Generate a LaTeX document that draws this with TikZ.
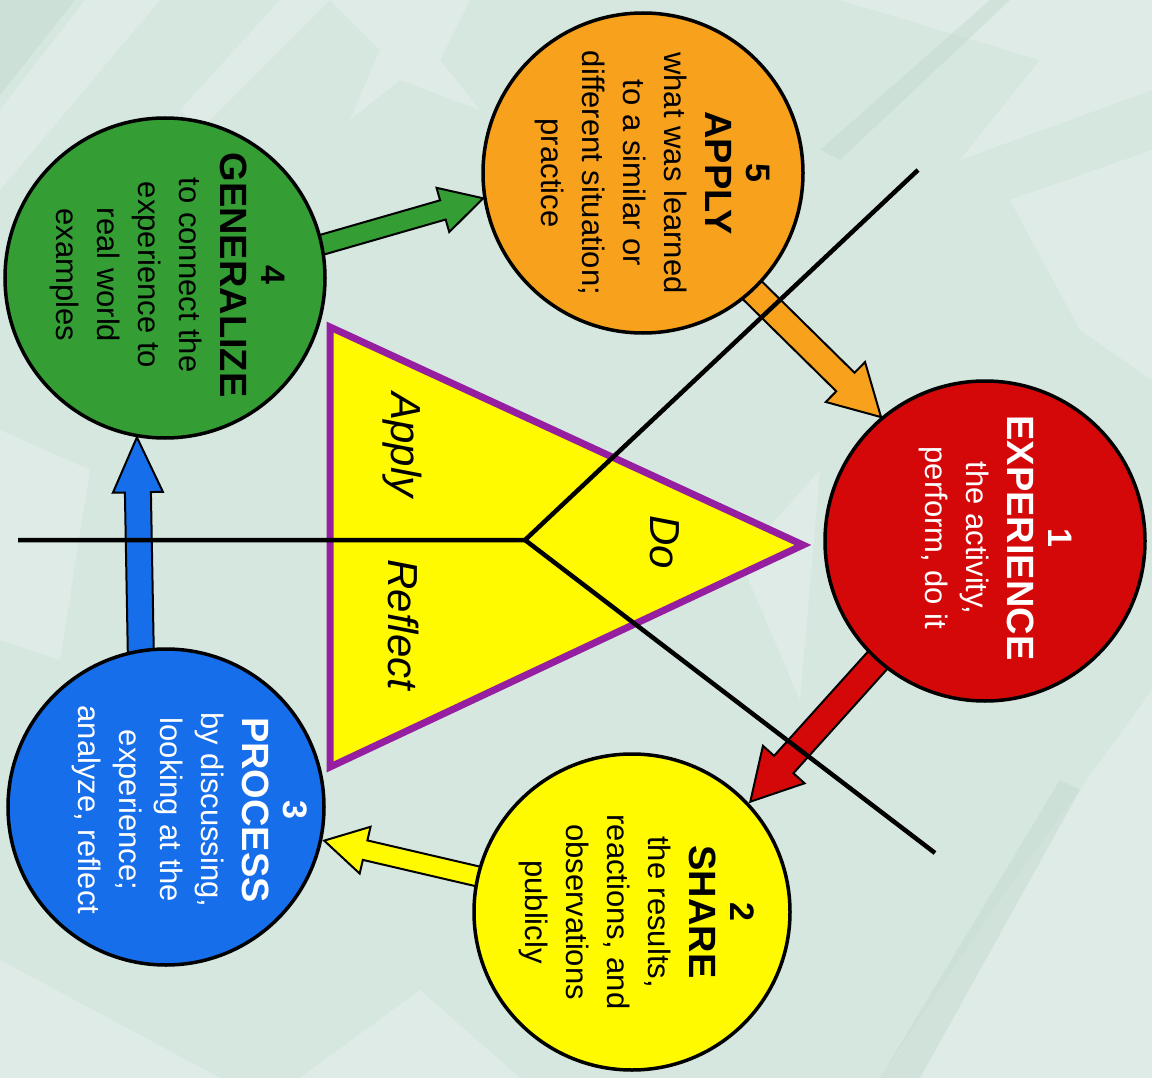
\documentclass[tikz,border=0pt]{standalone}
\usepackage{fontspec}
\setmainfont{Liberation Sans}
\usetikzlibrary{calc}

\definecolor{bgmint}{RGB}{214,231,224}
\definecolor{bglight}{RGB}{234,242,239}
\definecolor{bgdark}{RGB}{190,214,204}
\definecolor{cycorange}{RGB}{247,161,28}
\definecolor{cycgreen}{RGB}{52,158,52}
\definecolor{cycred}{RGB}{212,8,8}
\definecolor{cycyellow}{RGB}{255,250,0}
\definecolor{cycblue}{RGB}{22,110,235}
\definecolor{tripurple}{RGB}{150,30,160}

\tikzset{
  stage/.style={circle, draw=black, line width=3.5pt, minimum size=320pt, inner sep=0pt},
  stagetext/.style={rotate=-90, align=center, inner sep=0pt, font=\fontsize{31}{41}\selectfont},
  blockedge/.style={draw=black, line width=2pt, line join=miter},
  triframe/.style={fill=cycyellow, draw=tripurple, line width=7pt, line join=miter},
  divider/.style={draw=black, line width=4.5pt},
  trilabel/.style={rotate=-90, inner sep=0pt, font=\itshape\fontsize{42}{42}\selectfont},
  swoosh/.style={fill=bglight, opacity=0.45},
  streak/.style={fill=bgdark, opacity=0.4}
}

\newcommand\stagenum[1]{{\bfseries\fontsize{34}{41}\selectfont #1}}
\newcommand\stagetitle[1]{{\bfseries\fontsize{38}{41}\selectfont #1}}

% block arrow: start, tip, fill, shaft half width, head half width, head length
\newcommand\blockarrow[6]{%
  \coordinate (ba-s) at ($(#1)!-10pt!(#2)$);
  \coordinate (ba-t) at (#2);
  \coordinate (ba-h) at ($(ba-t)!#6!(ba-s)$);
  \draw[blockedge, fill=#3]
    ($(ba-s)!#4!90:(ba-t)$) -- ($(ba-h)!#4!-90:(ba-s)$) -- ($(ba-h)!#5!-90:(ba-s)$) -- (ba-t)
    -- ($(ba-h)!#5!90:(ba-s)$) -- ($(ba-h)!#4!90:(ba-s)$) -- ($(ba-s)!#4!-90:(ba-t)$) -- cycle;
}

\begin{document}
\begin{tikzpicture}[x=1pt, y=-1pt]
  \useasboundingbox (0,0) rectangle (1152,1078);

  % backdrop with soft brush strokes
  \fill[bgmint] (0,0) rectangle (1152,1078);
  \fill[streak] (0,0) -- (75,0) -- (0,95) -- cycle;
  \fill[swoosh] (85,0) -- (160,0) -- (0,190) -- (0,110) -- cycle;
  \fill[swoosh] (330,0) -- (470,0) -- (440,60) -- (480,110) -- (400,80) -- (350,120) -- (380,50) -- cycle;
  \fill[swoosh] (840,0) -- (1152,0) -- (1152,90) -- (960,160) -- (1040,60) -- cycle;
  \fill[streak] (820,150) -- (990,0) -- (1010,0) -- (840,160) -- cycle;
  \fill[swoosh] (1010,200) -- (1152,150) -- (1152,380) -- (1080,330) -- cycle;
  \fill[swoosh] (1152,690) -- (1152,1078) -- (880,1078) -- (1000,900) -- cycle;
  \fill[streak] (880,1078) -- (1060,780) -- (1080,790) -- (920,1078) -- cycle;
  \fill[swoosh] (0,960) -- (220,1078) -- (0,1078) -- cycle;
  \fill[swoosh] (300,1078) -- (420,990) -- (520,1078) -- cycle;
  \fill[swoosh] (0,430) -- (90,470) -- (60,660) -- (0,640) -- cycle;
  \fill[swoosh] (740,560) -- (820,470) -- (800,700) -- cycle;
  \fill[swoosh] (280,0) -- (330,0) -- (200,130) -- (180,110) -- cycle;

  % central Do / Apply / Reflect triangle
  \coordinate (triNW) at (330,327);
  \coordinate (triSW) at (330,767);
  \coordinate (triE)  at (803,545);
  \draw[triframe] (triNW) -- (triSW) -- (triE) -- cycle;

  % the five stages
  \coordinate (p1) at (985,541);
  \coordinate (p2) at (632,912);
  \coordinate (p3) at (166,807);
  \coordinate (p4) at (165,278);
  \coordinate (p5) at (643,173);

  % place stage circles (arrows are drawn first, underneath)
  \path (p1) node[stage, draw=none] (c1) {}
        (p2) node[stage, draw=none] (c2) {}
        (p3) node[stage, draw=none] (c3) {}
        (p4) node[stage, draw=none] (c4) {}
        (p5) node[stage, draw=none] (c5) {};

  \blockarrow{c4.12}{c5.189.6}{cycgreen}{10pt}{23pt}{42pt}
  \blockarrow{c5.-47}{c1.130}{cycorange}{13pt}{28pt}{50pt}
  \blockarrow{c1.228}{c2.43}{cycred}{13pt}{28pt}{50pt}
  \blockarrow{c2.167}{c3.-12.4}{cycyellow}{10pt}{24pt}{42pt}
  \blockarrow{c3.99.4}{c4.260.5}{cycblue}{13pt}{25pt}{55pt}

  \draw[stage, fill=cycred]    (p1) circle[radius=160pt];
  \draw[stage, fill=cycyellow] (p2) circle[radius=158pt];
  \draw[stage, fill=cycblue]   (p3) circle[radius=158pt];
  \draw[stage, fill=cycgreen]  (p4) circle[radius=160pt];
  \draw[stage, fill=cycorange] (p5) circle[radius=160pt];

  \node[stagetext, text=white] (t1) at (995,538)
    {\stagenum{1}\\\stagetitle{EXPERIENCE}\\the activity,\\perform, do it};
  \node[stagetext] (t2) at (637,912)
    {\stagenum{2}\\\stagetitle{SHARE}\\the results,\\reactions, and\\observations\\publicly};
  \node[stagetext, text=white] (t3) at (190,810)
    {\stagenum{3}\\\stagetitle{PROCESS}\\by discussing,\\looking at the\\experience;\\analyze, reflect};
  \node[stagetext] (t4) at (167,275)
    {\stagenum{4}\\\stagetitle{GENERALIZE}\\to connect the\\experience to\\real world\\examples};
  \node[stagetext] (t5) at (652,173)
    {\stagenum{5}\\\stagetitle{APPLY}\\what was learned\\to a similar or\\different situation;\\practice};

  % dividing lines through the triangle
  \coordinate (hub)    at (525,540);
  \coordinate (endW)   at (18,540);
  \coordinate (endNE)  at (918,170);
  \coordinate (endSE)  at (935,853);
  \draw[divider] (endW) -- (hub) -- (endNE);
  \draw[divider] (hub) -- (endSE);

  \node[trilabel] (lapply)   at (402,445) {Apply};
  \node[trilabel] (lreflect) at (404,625) {Reflect};
  \node[trilabel] (ldo)      at (665,542) {Do};
\end{tikzpicture}
\end{document}
